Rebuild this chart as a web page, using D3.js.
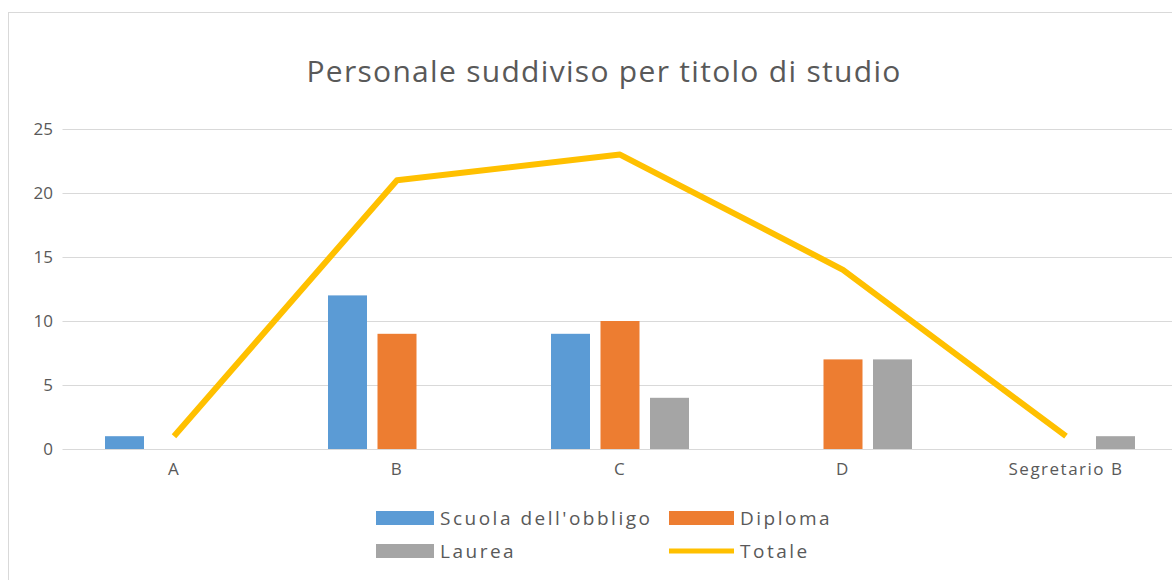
<!DOCTYPE html>
<html><head><meta charset="utf-8">
<script src="https://cdn.jsdelivr.net/npm/d3@7"></script>
<style>body{margin:0;background:#fff}svg{display:block}text{font-family:"Open Sans","Noto Sans",sans-serif}</style>
</head><body><div id="c"></div>
<script>
const categories = ["A","B","C","D","Segretario B"];
const scuola = [1,12,9,0,0];
const diploma = [0,9,10,7,0];
const laurea = [0,0,4,7,1];
const totale = [1,21,23,14,1];
const yTicks = [0,5,10,15,20,25];
const seriesNames = ["Scuola dell'obbligo","Diploma","Laurea","Totale"];
const colors = ["#5B9BD5","#ED7D31","#A5A5A5","#FFC000"];

const W=1172,H=580;
const svg=d3.select("#c").append("svg").attr("width",W).attr("height",H);
svg.append("rect").attr("x",8.5).attr("y",12.5).attr("width",1180).attr("height",600).attr("fill","#fff").attr("stroke","#D9D9D9");

const x=d3.scaleBand().domain(categories).range([62.5,1177.5]);
const y=d3.scaleLinear().domain([0,25]).range([449,129]);
const barW=39, stride=49.5;

svg.append("g").selectAll("line").data(yTicks).join("line")
 .attr("x1",62.5).attr("x2",1177.5).attr("y1",d=>Math.round(y(d))+0.5).attr("y2",d=>Math.round(y(d))+0.5)
 .attr("stroke","#D9D9D9").attr("stroke-width",1);

const ya=svg.append("g").attr("transform","translate(53,0)").call(d3.axisLeft(y).tickValues(yTicks).tickSize(0).tickPadding(0));
ya.select(".domain").remove();
ya.selectAll("text").attr("fill","#595959").style("font-size","17px").style("font-family","'Open Sans',sans-serif");

const xa=svg.append("g").attr("transform","translate(0,449)").call(d3.axisBottom(x).tickSize(0).tickPadding(14));
xa.select(".domain").remove();
xa.selectAll("text").attr("fill","#595959").style("font-size","17px").style("letter-spacing","1.5px").style("font-family","'Open Sans',sans-serif");

const bars=[scuola,diploma,laurea];
bars.forEach((arr,si)=>{
  svg.append("g").selectAll("rect").data(arr.map((v,i)=>({v,c:categories[i]}))).join("rect")
   .attr("x",d=>x(d.c)+x.bandwidth()/2+(si-1)*stride-barW/2).attr("width",barW)
   .attr("y",d=>y(d.v)).attr("height",d=>y(0)-y(d.v)).attr("fill",colors[si]);
});

const line=d3.line().x((d,i)=>x(categories[i])+x.bandwidth()/2).y(d=>y(d));
svg.append("path").datum(totale).attr("d",line).attr("fill","none").attr("stroke",colors[3]).attr("stroke-width",6).attr("stroke-linejoin","round");

svg.append("text").attr("x",604).attr("y",82).attr("text-anchor","middle").attr("fill","#595959")
 .style("font-size","30px").style("letter-spacing","1.3px").text("Personale suddiviso per titolo di studio");

const leg=[{n:seriesNames[0],c:colors[0],x:376,y:518,t:"r",tx:440},{n:seriesNames[1],c:colors[1],x:669,y:518,t:"r",tx:740},
 {n:seriesNames[2],c:colors[2],x:376,y:551,t:"r",tx:440},{n:seriesNames[3],c:colors[3],x:669,y:551,t:"l",tx:740}];
const lg=svg.append("g").selectAll("g").data(leg).join("g");
lg.each(function(d){
  const g=d3.select(this);
  if(d.t==="r") g.append("rect").attr("x",d.x).attr("y",d.y-7).attr("width",d.tx-d.x-6).attr("height",14).attr("fill",d.c);
  else g.append("line").attr("x1",d.x).attr("x2",d.tx-6).attr("y1",d.y).attr("y2",d.y).attr("stroke",d.c).attr("stroke-width",5);
  g.append("text").attr("x",d.tx).attr("y",d.y).attr("dy","0.35em").attr("fill","#595959")
   .style("font-size","19px").style("letter-spacing","2.5px").text(d.n);
});
</script></body></html>
